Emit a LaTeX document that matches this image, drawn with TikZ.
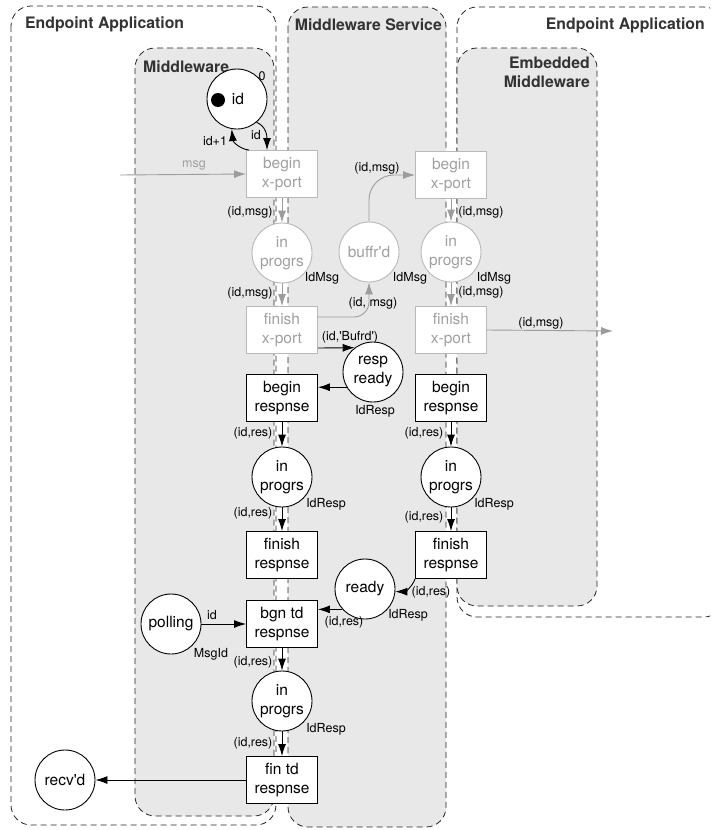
\documentclass[tikz,border=0pt]{standalone}
\usepackage{fontspec}
\setmainfont{TeX Gyre Heros}
\usetikzlibrary{arrows.meta}
\definecolor{regfill}{HTML}{E8E8E8}
\definecolor{gline}{HTML}{B8B8B8}
\definecolor{gtext}{HTML}{A0A0A0}
\definecolor{garrow}{HTML}{9C9C9C}
\definecolor{titlec}{HTML}{333333}
\newcommand{\nodefnt}{\fontsize{15.5}{19}\selectfont}
\newcommand{\lblfnt}{\fontsize{12.5}{14}\selectfont}
\newcommand{\titlefnt}{\fontsize{15.8}{19}\selectfont\bfseries}
\newcommand{\apos}{\textquotesingle}
\tikzset{
  region/.style={draw=black!85, dash pattern=on 6pt off 4pt, rounded corners=20pt, line width=0.8pt},
  place/.style={circle, draw, fill=white, minimum size=60pt, inner sep=0pt, font=\nodefnt, align=center, line width=0.9pt},
  trans/.style={rectangle, draw, fill=white, minimum width=71pt, minimum height=47pt, inner sep=0pt, font=\nodefnt, align=center, line width=0.9pt},
  ghost/.style={draw=gline, text=gtext},
  arc/.style={-{Latex[length=12pt,width=8pt]}, line width=0.9pt},
  garc/.style={arc, color=garrow},
  lbl/.style={font=\lblfnt, inner sep=0pt},
  glbl/.style={lbl, text=gtext},
  title/.style={font=\titlefnt, text=titlec, inner sep=0pt},
  tokenstyle/.style={circle, fill=black, minimum size=14pt, inner sep=0pt}
}
\begin{document}
\begin{tikzpicture}[x=1pt,y=1pt]
\useasboundingbox (0,0) rectangle (710,-830);
\clip (0,0) rectangle (710,-830);
\fill[white] (0,0) rectangle (710,-830);
% regions
\draw[region, fill=white] (11,-6) rectangle (276,-825);
\draw[region, fill=regfill] (135,-48) rectangle (274,-816);
\draw[region, fill=regfill] (288,-7) rectangle (446,-827);
\draw[region] (457,-7) rectangle (724,-617);
\draw[region, fill=regfill] (457,-48) rectangle (597,-606);
% titles
\node[title, anchor=west] (t1) at (25,-24) {Endpoint Application};
\node[title, anchor=west] (t2) at (143,-67) {Middleware};
\node[title, anchor=east] (t3) at (442,-25) {Middleware Service};
\node[title, anchor=east] (t4) at (705,-25) {Endpoint Application};
\node[title, anchor=east, align=right] (t5) at (590,-72) {Embedded\\Middleware};
% left column
\node[place] (idp) at (237,-99) {\hspace*{2pt}id};
\node[tokenstyle] (tok) at (218,-100) {};
\node[trans, ghost] (bx1) at (282,-174) {begin\\x-port};
\node[place, ghost] (ip1) at (282,-253) {in\\progrs};
\node[trans, ghost] (fx1) at (282,-330) {finish\\x-port};
\node[trans] (br1) at (282,-398) {begin\\respnse};
\node[place] (ipr1) at (282,-477) {in\\progrs};
\node[trans] (fr1) at (282,-555) {finish\\respnse};
\node[trans] (bt) at (282,-624) {bgn td\\respnse};
\node[place] (ipt) at (282,-701) {in\\progrs};
\node[trans] (ft) at (282,-780) {fin td\\respnse};
% right column
\node[trans, ghost] (bx2) at (451,-175) {begin\\x-port};
\node[place, ghost] (ip2) at (451,-252) {in\\progrs};
\node[trans, ghost] (fx2) at (451,-330) {finish\\x-port};
\node[trans] (br2) at (451,-398) {begin\\respnse};
\node[place] (ipr2) at (451,-477) {in\\progrs};
\node[trans] (fr2) at (451,-555) {finish\\respnse};
% middle and others
\node[place, ghost] (buf) at (369,-252) {buffr\apos d};
\node[place] (rr) at (373,-372) {resp\\ready};
\node[place] (rdy) at (365,-589) {ready};
\node[place] (pol) at (171,-624) {polling};
\node[place] (rcv) at (65,-780) {recv\apos d};
\coordinate (msgin) at (120,-175);
\coordinate (msgout) at (613,-331);
% arcs: id place
\draw[arc] (idp.-50) .. controls (266,-126) and (267,-136) .. ([xshift=-15pt]bx1.north);
\draw[arc] ([xshift=-33pt]bx1.north) .. controls (240,-149) and (233,-142) .. (idp.-100);
% gray arcs
\draw[garc] (msgin) -- (bx1.west);
\draw[garc] (bx1) -- (ip1);
\draw[garc] (ip1) -- (fx1);
\draw[garc, rounded corners=15pt] ([yshift=13pt]fx1.east) -| (buf.south);
\draw[garc, rounded corners=25pt] (buf.north) |- (bx2.west);
\draw[garc] (bx2) -- (ip2);
\draw[garc] (ip2) -- (fx2);
\draw[garc] (fx2.east) -- (msgout);
% black arcs
\draw[arc] ([yshift=-18pt]fx1.east) -- (rr.127);
\draw[arc] (rr.210) -- (br1.east |- rr.210);
\draw[arc] (br1) -- (ipr1);
\draw[arc] (ipr1) -- (fr1);
\draw[arc] (br2) -- (ipr2);
\draw[arc] (ipr2) -- (fr2);
\draw[arc] (fr2.south west) to[out=-110,in=0] (rdy.-5);
\draw[arc] (rdy.222) -- (bt.east |- rdy.222);
\draw[arc] (pol) -- (bt);
\draw[arc] (bt) -- (ipt);
\draw[arc] (ipt) -- (ft);
\draw[arc] (ft) -- (rcv);
% labels
\node[lbl] (l0) at (262,-76) {0};
\node[lbl] (l1) at (215,-141) {id+1};
\node[lbl] (l2) at (256,-135) {id};
\node[glbl] (l3) at (194,-165) {msg};
\node[lbl] (l4) at (250,-212) {(id,msg)};
\node[lbl] (l5) at (250,-293) {(id,msg)};
\node[lbl] (l6) at (322,-278) {IdMsg};
\node[lbl] (l7) at (410,-278) {IdMsg};
\node[lbl] (l8) at (373,-303) {(id, msg)};
\node[lbl] (l9) at (377,-168) {(id,msg)};
\node[lbl] (l10) at (481,-212) {(id,msg)};
\node[lbl] (l11) at (481,-292) {(id,msg)};
\node[lbl] (l12) at (494,-278) {IdMsg};
\node[lbl] (l13) at (541,-323) {(id,msg)};
\node[lbl] (l14) at (350,-337) {(id,\apos Bufrd\apos)};
\node[lbl] (l15) at (375,-411) {IdResp};
\node[lbl] (l16) at (253,-433) {(id,res)};
\node[lbl] (l17) at (326,-504) {IdResp};
\node[lbl] (l18) at (253,-513) {(id,res)};
\node[lbl] (l19) at (424,-433) {(id,res)};
\node[lbl] (l20) at (424,-517) {(id,res)};
\node[lbl] (l21) at (494,-504) {IdResp};
\node[lbl] (l22) at (431,-592) {(id,res)};
\node[lbl] (l23) at (408,-615) {IdResp};
\node[lbl] (l24) at (344,-622) {(id,res)};
\node[lbl] (l25) at (212,-615) {id};
\node[lbl] (l26) at (211,-654) {MsgId};
\node[lbl] (l27) at (253,-662) {(id,res)};
\node[lbl] (l28) at (326,-729) {IdResp};
\node[lbl] (l29) at (253,-743) {(id,res)};
\end{tikzpicture}
\end{document}
